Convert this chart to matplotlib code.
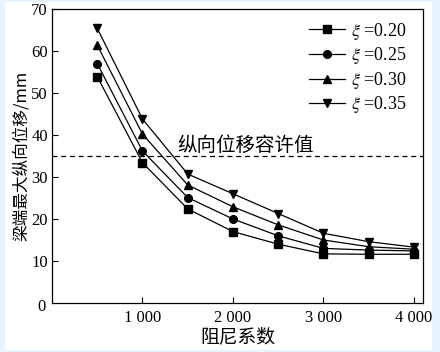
import matplotlib
matplotlib.use("Agg")
import matplotlib.pyplot as plt
from matplotlib.patches import Rectangle

# damping coefficient vs. max longitudinal displacement at beam end
damping = [500, 1000, 1500, 2000, 2500, 3000, 3500, 4000]
xi_labels = ["0.20", "0.25", "0.30", "0.35"]
disp_020 = [53.9, 33.4, 22.4, 17.0, 14.0, 11.7, 11.6, 11.6]
disp_025 = [57.0, 36.2, 25.1, 20.0, 16.0, 13.0, 12.6, 12.4]
disp_030 = [61.4, 40.2, 28.1, 22.9, 18.6, 15.0, 13.4, 12.8]
disp_035 = [65.4, 43.8, 30.7, 26.0, 21.3, 16.6, 14.6, 13.3]
limit_value = 35
xticks = [1000, 2000, 3000, 4000]
xtick_labels = ["1 000", "2 000", "3 000", "4 000"]
yticks = [10, 20, 30, 40, 50, 60, 70]

plt.rcParams["font.family"] = ["Liberation Serif", "Noto Sans CJK SC"]
plt.rcParams["mathtext.fontset"] = "stix"
cjk = ["Noto Sans CJK SC", "Liberation Serif"]

fig = plt.figure(figsize=(4.4, 3.52), dpi=100, facecolor="#e6f3fb")
# white page inside the light blue frame
fig.patches.append(Rectangle((5 / 440, 2 / 352), 427 / 440, 348 / 352,
                             transform=fig.transFigure, facecolor="white",
                             edgecolor="none", zorder=-10))
ax = fig.add_axes([52 / 440, 49 / 352, 371 / 440, 294 / 352])
ax.set_zorder(1)

series = [disp_020, disp_025, disp_030, disp_035]
markers = ["s", "o", "^", "v"]
for vals, m, lab in zip(series, markers, xi_labels):
    ax.plot(damping, vals, color="black", lw=0.9, marker=m, ms=5.5,
            label=r"$\xi$ =" + lab)

ax.axhline(limit_value, color="black", lw=0.9, ls=(0, (4, 3)))
ax.text(1390, 36.2, "纵向位移容许值", family=cjk, fontsize=14)

ax.set_xlim(0, 4100)
ax.set_ylim(0, 70)
ax.set_xticks(xticks)
ax.set_xticklabels(xtick_labels)
ax.set_yticks(yticks)
ax.tick_params(direction="in", length=4, width=0.8, labelsize=12,
               top=False, right=False)
ax.tick_params(axis="x", pad=5)
ax.tick_params(axis="y", pad=3)
ax.text(-0.018, -0.015, "0", transform=ax.transAxes, ha="right", va="center",
        fontsize=12)
for s in ax.spines.values():
    s.set_linewidth(0.9)

ax.set_xlabel("阻尼系数", family=cjk, fontsize=13.5, labelpad=0)
ax.set_ylabel("梁端最大纵向位移/mm", family=cjk, fontsize=12, labelpad=1)

ax.legend(loc="upper right", frameon=False, fontsize=13, handlelength=2.0,
          handletextpad=0.3, labelspacing=0.2, borderaxespad=0.0,
          bbox_to_anchor=(0.975, 0.985))

fig.savefig("out.png", dpi=100, facecolor=fig.get_facecolor())
